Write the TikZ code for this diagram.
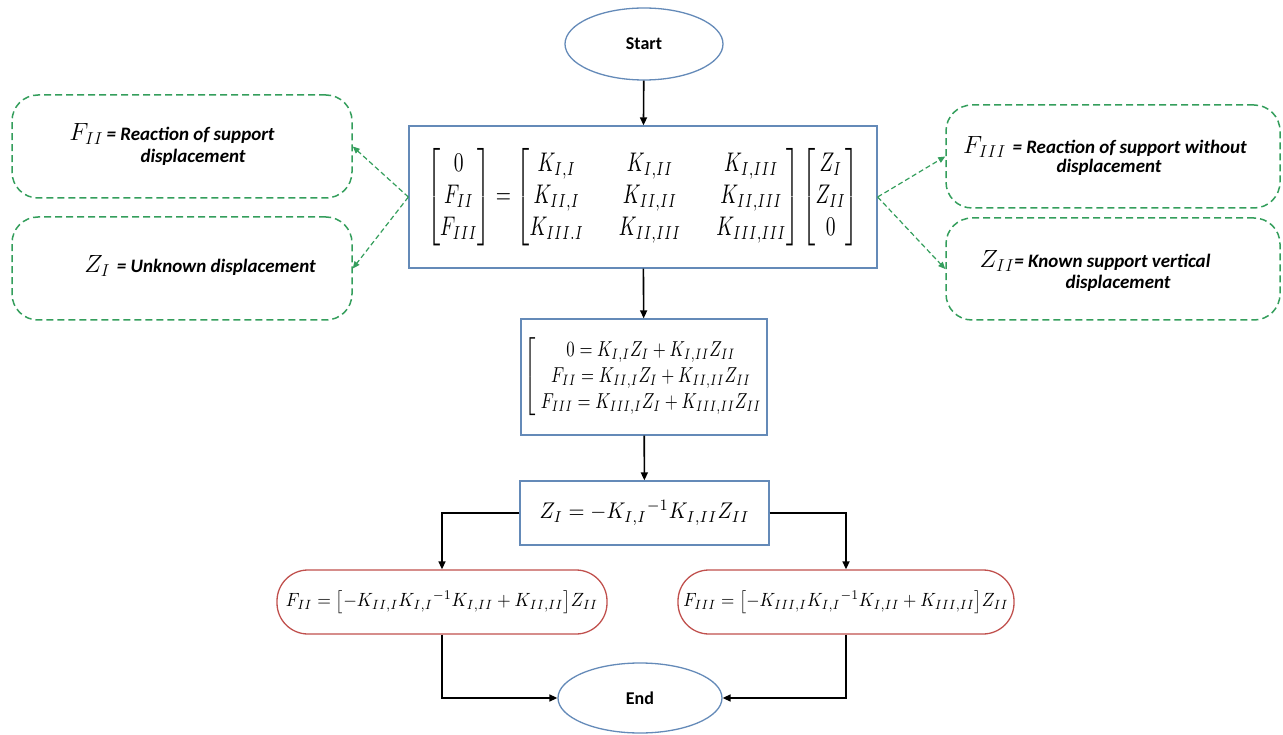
\documentclass[tikz,border=0pt]{standalone}
\usepackage{amsmath}
\usepackage{graphicx}
\usepackage{fontspec}
\newfontfamily\carl{Carlito}
\usetikzlibrary{shapes.geometric,arrows.meta}
\definecolor{boxblue}{RGB}{100,138,184}
\definecolor{dgreen}{RGB}{52,158,92}
\definecolor{bred}{RGB}{192,80,77}
\newcommand\lblf{\carl\bfseries\itshape\fontsize{19}{22}\selectfont}
\newcommand\mth[1]{{\fontsize{26}{28}\selectfont$#1$}}
\tikzset{
  blubox/.style={draw=boxblue,line width=1.3pt,inner sep=0pt,fill=white},
  term/.style={ellipse,draw=boxblue,line width=1.3pt,inner sep=0pt,font=\carl\bfseries\fontsize{18}{20}\selectfont},
  redbox/.style={draw=bred,line width=1.3pt,rounded corners=31pt,inner sep=0pt},
  grnbox/.style={draw=dgreen,line width=1.5pt,dash pattern=on 7pt off 4pt,rounded corners=26pt,inner sep=0pt},
  flow/.style={line width=1.6pt,-{Triangle[length=8pt,width=7pt]}},
  gflow/.style={draw=dgreen,line width=1.2pt,dash pattern=on 5pt off 3pt,-{Triangle[length=7pt,width=6pt]}},
  lbl/.style={anchor=base,inner sep=0pt}
}
\begin{document}
\begin{tikzpicture}[x=1pt,y=-1pt]
\useasboundingbox (0,0) rectangle (1283,735);
% terminals
\node[term,minimum width=158pt,minimum height=72pt] (start) at (644,44) {Start};
\node[term,minimum width=164pt,minimum height=70pt] (end) at (640,698) {End};
% matrix box
\node[blubox,minimum width=468pt,minimum height=142pt] (mat) at (643,197)
  {\resizebox*{432pt}{97pt}{\setlength\arraycolsep{9pt}$\begin{bmatrix}0\\F_{II}\\F_{III}\end{bmatrix}=\begin{bmatrix}K_{I,I}&K_{I,II}&K_{I,III}\\K_{II,I}&K_{II,II}&K_{II,III}\\K_{III.I}&K_{II,III}&K_{III,III}\end{bmatrix}\begin{bmatrix}Z_I\\Z_{II}\\0\end{bmatrix}$}};
% system box
\node[blubox,minimum width=246pt,minimum height=116pt] (sys) at (644,377)
  {\resizebox*{238pt}{78pt}{\setlength\jot{0pt}$\left[\;\begin{gathered}0=K_{I,I}Z_I+K_{I,II}Z_{II}\\F_{II}=K_{II,I}Z_I+K_{II,II}Z_{II}\\F_{III}=K_{III,I}Z_I+K_{III,II}Z_{II}\end{gathered}\right.$}};
% solution box
\node[blubox,minimum width=249pt,minimum height=64pt] (sol) at (644.5,513)
  {\resizebox*{210pt}{25pt}{$Z_I=-K_{I,I}{}^{-1}K_{I,II}Z_{II}$}};
% result boxes
\node[redbox,minimum width=330pt,minimum height=64pt] (r1) at (442,602)
  {\resizebox*{312pt}{23pt}{$F_{II}=\bigl[-K_{II,I}K_{I,I}{}^{-1}K_{I,II}+K_{II,II}\bigr]Z_{II}$}};
\node[redbox,minimum width=336pt,minimum height=64pt] (r2) at (846,602)
  {\resizebox*{325pt}{23pt}{$F_{III}=\bigl[-K_{III,I}K_{I,I}{}^{-1}K_{I,II}+K_{III,II}\bigr]Z_{II}$}};
% green notes
\node[grnbox,minimum width=340pt,minimum height=103pt] (g1) at (182,146.5) {};
\node[grnbox,minimum width=340pt,minimum height=103pt] (g2) at (182,268.5) {};
\node[grnbox,minimum width=334pt,minimum height=103pt] (g3) at (1113,156.5) {};
\node[grnbox,minimum width=334pt,minimum height=102pt] (g4) at (1113,269) {};
\node[lbl] (g1a) at (172,141) {\mth{F_{II}}\ \lblf= Reaction of support};
\node[lbl] (g1b) at (193,163) {\lblf displacement};
\node[lbl] (g2a) at (200,273) {\mth{Z_I}\ \ {\lblf= Unknown displacement}};
\node[lbl] (g3a) at (1105,154) {\mth{F_{III}}\ \ \lblf= Reaction of support without};
\node[lbl] (g3b) at (1109,173) {\lblf displacement};
\node[lbl] (g4a) at (1095,268) {\mth{Z_{II}}\lblf= Known support vertical};
\node[lbl] (g4b) at (1118,289) {\lblf displacement};
% flow
\draw[flow] (start) -- (mat);
\draw[flow] (mat) -- (sys);
\draw[flow] (sys) -- (sol);
\draw[flow] (sol.west) -| (r1.north);
\draw[flow] (sol.east) -| (r2.north);
\draw[flow] (r1.south) |- (end.west);
\draw[flow] (r2.south) |- (end.east);
% green
\draw[gflow] (mat.west) -- (g1.east);
\draw[gflow] (mat.west) -- (g2.east);
\draw[gflow] (mat.east) -- (g3.west);
\draw[gflow] (mat.east) -- (g4.west);
\end{tikzpicture}
\end{document}
